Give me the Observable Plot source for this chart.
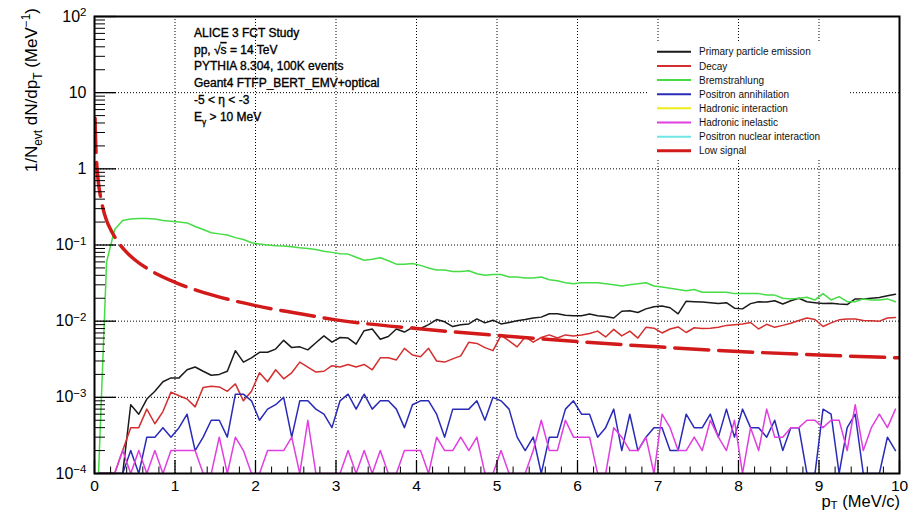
<!DOCTYPE html>
<html><head><meta charset="utf-8">
<script src="https://cdn.jsdelivr.net/npm/d3@7"></script>
<script src="https://cdn.jsdelivr.net/npm/@observablehq/plot@0.6"></script>
<style>
html,body{margin:0;padding:0;background:#fff;overflow:hidden;}
svg{font-family:"Liberation Sans",Arial,Helvetica,sans-serif;}
</style></head><body><div id="chart"></div>
<script>
// ---------- data ----------
const binLow = 0, binWidth = 0.1, nBins = 100;           // histogram binning, pT in MeV/c
const primaryEmission = [0,0,0,0.0001,0.0008,0.0006,0.00095,0.0012,0.0016,0.0018,
  0.0018,0.0023,0.0025,0.0022,0.00195,0.002,0.0022,0.0041,0.0029,0.0033,
  0.0039,0.0039,0.0043,0.0056,0.0045,0.0046,0.0042,0.0052,0.0064,0.0053,
  0.0061,0.006,0.005,0.0075,0.0079,0.0058,0.0063,0.0079,0.0072,0.0083,
  0.008,0.009,0.0105,0.0098,0.0085,0.009,0.0092,0.0107,0.0095,0.0103,
  0.0092,0.0096,0.0101,0.0105,0.011,0.0113,0.0125,0.0125,0.012,0.0118,
  0.0118,0.0124,0.0118,0.0115,0.011,0.0135,0.0137,0.013,0.0145,0.0155,
  0.0158,0.015,0.0125,0.0183,0.018,0.0178,0.0175,0.017,0.0175,0.0148,
  0.0145,0.017,0.018,0.0178,0.0185,0.0168,0.0185,0.02,0.018,0.0175,
  0.017,0.0172,0.0168,0.0165,0.0196,0.0196,0.02,0.0204,0.0215,0.0225];
const decay = [0,0,0,0.0002,0.0004,0.0004,0.0007,0.00045,0.00065,0.00117,
  0.00105,0.00095,0.00075,0.00135,0.0014,0.00137,0.0012,0.0015,0.0009,0.0012,
  0.0021,0.0016,0.0023,0.00175,0.0021,0.0029,0.0025,0.00215,0.0022,0.0026,
  0.0025,0.0027,0.0025,0.0027,0.0023,0.0033,0.0033,0.0031,0.0044,0.0036,
  0.0034,0.0044,0.003,0.0029,0.0032,0.0035,0.0053,0.0051,0.0045,0.0041,
  0.0065,0.0055,0.0046,0.0062,0.0053,0.0061,0.0066,0.006,0.0066,0.0064,
  0.0066,0.0069,0.0074,0.0062,0.0078,0.0064,0.0074,0.006,0.0083,0.0081,
  0.007,0.0079,0.0084,0.0071,0.0082,0.008,0.0081,0.0083,0.0088,0.009,
  0.0092,0.0096,0.0079,0.0091,0.0083,0.0088,0.0094,0.0102,0.011,0.0105,
  0.0085,0.0095,0.0104,0.0107,0.0107,0.0102,0.0101,0.01,0.011,0.0112];
const bremsstrahlung = [0,0.06,0.16,0.21,0.22,0.222,0.222,0.22,0.21,0.205,
  0.2,0.195,0.175,0.16,0.145,0.14,0.135,0.125,0.118,0.107,
  0.103,0.1,0.098,0.097,0.095,0.092,0.09,0.087,0.083,0.08,
  0.077,0.076,0.069,0.063,0.065,0.068,0.062,0.056,0.056,0.057,
  0.054,0.05,0.047,0.047,0.045,0.045,0.046,0.042,0.04,0.041,
  0.041,0.038,0.038,0.037,0.037,0.038,0.035,0.034,0.032,0.031,
  0.032,0.032,0.032,0.031,0.03,0.029,0.03,0.031,0.032,0.029,
  0.028,0.027,0.026,0.025,0.026,0.024,0.024,0.024,0.024,0.023,
  0.023,0.023,0.023,0.022,0.022,0.02,0.0196,0.02,0.0206,0.019,
  0.023,0.019,0.021,0.018,0.018,0.0196,0.019,0.019,0.0196,0.018];
const positronAnnihilation = [0,0,0,0,0.0002,0.0001,0.0003,0.0003,0.0004,0.0003,
  0.0004,0.0006,0.0002,0.0003,0.0005,0.0005,0.0003,0.0011,0.0011,0.0009,
  0.0005,0.0007,0.0008,0.001,0.0003,0.0009,0.0009,0.0007,0.0006,0.0004,
  0.0009,0.0011,0.0007,0.0011,0.0007,0.0009,0.0009,0.0007,0.0004,0.0008,
  0.0009,0.0009,0.0006,0.0003,0.0007,0.0007,0.0007,0.0009,0.0005,0.001,
  0.0009,0.0007,0.0003,0.0002,0.0003,0,0.0003,0.0003,0.0007,0.0009,
  0.0006,0.0006,0.0003,0.0004,0.0007,0.0002,0.0006,0.0002,0.0003,0.0004,
  0.0004,0.0002,0.0002,0.0006,0.0004,0.0004,0.0006,0.0003,0.0007,0.0003,
  0.0007,0.0004,0.0004,0.0003,0.0005,0.0002,0.0004,0.0004,0,0,
  0.0007,0.0006,0,0.0004,0.0006,0,0,0,0.0003,0.0002];
const hadronicInteraction = [];          // not visible in the picture
const hadronicInelastic = [0,0,0,0.0002,0,0.0002,0,0.0002,0,0.0002,
  0.0002,0.0002,0.0002,0,0,0.0003,0,0.0003,0.0002,0,
  0,0.0002,0.0002,0.0002,0.0003,0,0.0005,0,0,0,
  0,0.0002,0,0.0002,0,0.0002,0,0,0.0002,0.0002,
  0.0002,0,0.0003,0.0002,0.0002,0.0003,0.0002,0.0003,0,0,
  0.0002,0,0,0,0.0002,0.0005,0.0002,0.0002,0.0005,0.0003,
  0.0003,0.0003,0,0,0.0004,0.0003,0.0002,0.0002,0.0003,0,
  0.0006,0.0004,0.0002,0.0002,0.0003,0.0002,0.0005,0.0003,0.0002,0.0005,
  0,0.0004,0.0002,0.0007,0.0003,0.0003,0.0004,0.0004,0.0005,0.0005,
  0.0004,0.0005,0.0005,0.0002,0.0008,0.0002,0.0004,0.0006,0.0004,0.0007];
const positronNuclearInteraction = [];   // not visible in the picture
const lowSignalX = [0.007,0.01,0.015,0.02,0.03,0.05,0.07,0.1,0.15,0.2,0.3,0.4,0.5,0.7,
  1.0,1.5,2.0,2.5,3.0,4.0,5.0,6.0,7.0,8.0,9.0,10.0];
const lowSignalY = [4.6,3.2,2.1,1.6,1.07,0.64,0.46,0.32,0.21,0.16,0.107,0.08,0.064,0.046,
  0.0324,0.0215,0.016,0.0128,0.0104,0.008,0.0065,0.0054,0.0046,0.004,0.0036,0.0033];

const legendNames = ["Primary particle emission","Decay","Bremstrahlung","Positron annihilation",
  "Hadronic interaction","Hadronic inelastic","Positron nuclear interaction","Low signal"];
const seriesColors = ["#1a1a1a","#d42e2e","#46dc46","#2a2ab8","#eded1a","#e03ee0","#6ee6e6","#d21a1a"];
const seriesValues = [primaryEmission, decay, bremsstrahlung, positronAnnihilation,
  hadronicInteraction, hadronicInelastic, positronNuclearInteraction];

const annotation = ["ALICE 3 FCT Study","pp, √s = 14 TeV","PYTHIA 8.304, 100K events",
  "Geant4 FTFP_BERT_EMV+optical","-5 < η < -3","E_γ > 10 MeV"];

const xMajor = [0,1,2,3,4,5,6,7,8,9,10];
const xGrid = [1,2,3,4,5,6,7,8,9];
const yMajor = [1e-4,1e-3,1e-2,1e-1,1,10,100];
const yGrid = [1e-3,1e-2,1e-1,1,10];

// ---------- derived ----------
const xMinor = d3.range(0, 10.0001, 0.2).map(v => +v.toFixed(2)).filter(v => Math.abs(v - Math.round(v)) > 1e-6);
const yMinor = [];
for (let e = -4; e < 2; e++) for (let m = 2; m <= 9; m++) yMinor.push(m * Math.pow(10, e));

const yMin = 1e-4;
const W = 913, H = 513, mL = 94, mR = 14, mT = 16, mB = 40;
const pw = W - mL - mR, ph = H - mT - mB;

const lineMarks = seriesValues.map((vals, k) => {
  const pts = vals.map((v, i) => ({x: binLow + binWidth * (i + 0.5), y: v > 0 ? v : yMin}));
  return Plot.line(pts, {x: "x", y: "y", stroke: seriesColors[k], strokeWidth: 1.5, clip: true});
});
const lowPts = lowSignalX.map((x, i) => ({x, y: lowSignalY[i]}));

const fmtY = d => {
  const e = Math.round(Math.log10(d));
  if (e === 0) return "1";
  if (e === 1) return "10";
  return "10^" + String(e).replace("-", "\u2212");
};

const chart = Plot.plot({
  width: W, height: H,
  marginLeft: mL, marginRight: mR, marginTop: mT, marginBottom: mB,
  style: {background: "#fff", fontFamily: "Liberation Sans, Arial, sans-serif", overflow: "visible"},
  x: {domain: [0, 10]},
  y: {type: "log", domain: [1e-4, 100]},
  marks: [
    Plot.ruleX(xGrid, {x: d => d, stroke: "#000", strokeWidth: 1, strokeDasharray: "1,2"}),
    Plot.ruleY(yGrid, {y: d => d, stroke: "#000", strokeWidth: 1, strokeDasharray: "1,2"}),
    ...lineMarks,
    Plot.line(lowPts, {x: "x", y: "y", stroke: seriesColors[7], strokeWidth: 3.5, strokeDasharray: "34,10", curve: "monotone-x", clip: true}),
    Plot.tickY(yMinor, {y: d => d, insetRight: pw - 11, stroke: "#000", strokeWidth: 1}),
    Plot.tickY(yMajor, {y: d => d, insetRight: pw - 22, stroke: "#000", strokeWidth: 1.3}),
    Plot.tickX(xMinor, {x: d => d, insetTop: ph - 6.5, stroke: "#000", strokeWidth: 1}),
    Plot.tickX(xMajor, {x: d => d, insetTop: ph - 13, stroke: "#000", strokeWidth: 1.3}),
    Plot.frame({stroke: "#000", strokeWidth: 2}),
    Plot.axisX({ticks: xMajor, tickSize: 0, tickPadding: 6, fontSize: 15.5, tickFormat: d => String(d), label: null}),
    Plot.axisY({ticks: yMajor, tickSize: 0, tickPadding: 8, fontSize: 16, tickFormat: fmtY, label: null})
  ]
});
document.getElementById("chart").appendChild(chart);

// ---------- rich text post-processing ----------
const svg = d3.select(chart);
svg.selectAll('g[aria-label="y-axis tick label"] text').each(function() {
  const t = d3.select(this);
  const m = t.text().match(/^10\^(.+)$/);
  if (m) {
    t.text("");
    t.append("tspan").text("10");
    t.append("tspan").attr("dy", "-0.45em").attr("font-size", "0.72em").text(m[1]);
  }
});

function rich(sel, parts, fs, subShift = 0.3) {
  let cur = 0;
  for (const [s, kind] of parts) {
    const target = kind === "sup" ? -0.42 * fs : kind === "sub" ? subShift * fs : 0;
    const ts = sel.append("tspan").text(s).attr("dy", target - cur);
    if (kind) ts.attr("font-size", fs * 0.7);
    cur = target;
  }
}

// y title
const yt = svg.append("text").attr("transform", "translate(37,8) rotate(-90)")
  .attr("text-anchor", "end").attr("font-size", 17).attr("fill", "#000");
rich(yt, [["1/N", null], ["evt", "sub"], [" dN/dp", null], ["T", "sub"], [" (MeV", null], ["\u22121", "sup"], [")", null]], 17);

// x title
const xt = svg.append("text").attr("x", 900).attr("y", 507)
  .attr("text-anchor", "end").attr("font-size", 16.5).attr("fill", "#000");
rich(xt, [["p", null], ["T", "sub"], [" (MeV/c)", null]], 16.5, 0.15);

// annotation block
const annY = [37, 54, 70, 87, 104, 121];
const ann = svg.append("g").attr("font-size", 12).attr("text-anchor", "start")
  .attr("fill", "#000").attr("stroke", "#000").attr("stroke-width", 0.35);
annotation.forEach((line, i) => {
  const t = ann.append("text").attr("x", 194).attr("y", annY[i]);
  if (line.startsWith("pp")) {
    rich(t, [["pp, \u221A", null], ["s", null], [" = 14 TeV", null]], 12);
    t.selectAll("tspan").filter((d, j) => j === 1).attr("text-decoration", "overline");
  } else if (line.startsWith("E_")) {
    rich(t, [["E", null], ["\u03B3", "sub"], [" > 10 MeV", null]], 12);
  } else {
    t.text(line);
  }
});

// legend
const lg = svg.append("g").attr("text-anchor", "start");
lg.append("rect").attr("x", 647).attr("y", 43).attr("width", 203).attr("height", 115).attr("fill", "#fff");
legendNames.forEach((name, i) => {
  const cy = 51.8 + i * 14.14;
  lg.append("line").attr("x1", 657).attr("x2", 691).attr("y1", cy).attr("y2", cy)
    .attr("stroke", seriesColors[i]).attr("stroke-width", i === 7 ? 3 : 2);
  lg.append("text").attr("x", 699).attr("y", cy + 3.6).attr("font-size", 10).attr("fill", "#111").text(name);
});
</script>
</body></html>
